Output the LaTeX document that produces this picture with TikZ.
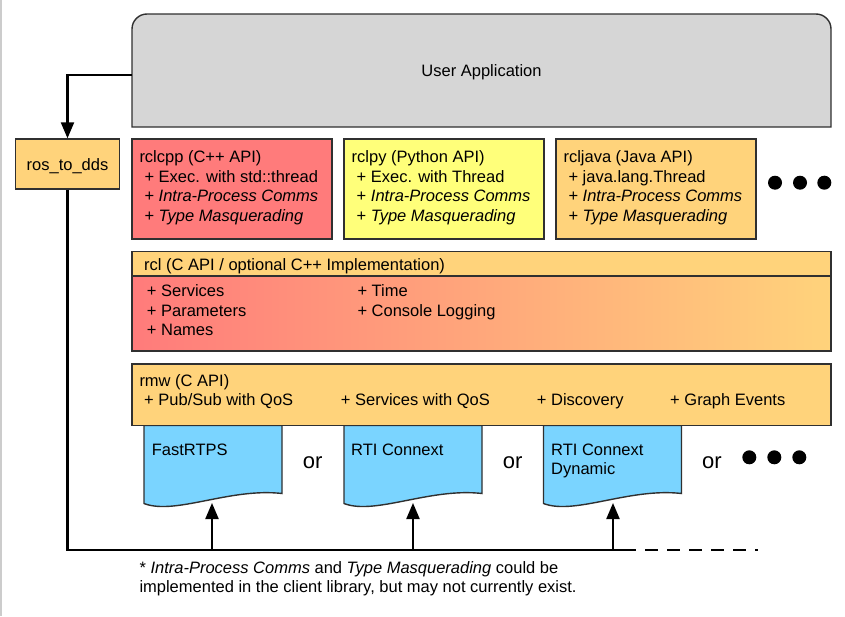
\documentclass[tikz,border=0pt]{standalone}
\usepackage{fontspec}
\setmainfont{Liberation Sans}
\usetikzlibrary{arrows.meta,calc}
\definecolor{appgray}{HTML}{D6D6D6}
\definecolor{libred}{HTML}{FF7B7B}
\definecolor{libyellow}{HTML}{FFFF7A}
\definecolor{liborange}{HTML}{FFD37B}
\definecolor{ddsblue}{HTML}{7AD4FF}
\definecolor{edge}{HTML}{303030}
\tikzset{
  boxstyle/.style={draw=edge, line width=1.4pt},
  txt/.style={inner sep=0pt, font=\fontsize{16.5}{19.5}\selectfont, align=left, anchor=base west},
  ctxt/.style={inner sep=0pt, font=\fontsize{16.5}{19.5}\selectfont, anchor=base},
  ortxt/.style={inner sep=0pt, font=\fontsize{22}{24}\selectfont, anchor=base west},
  conn/.style={line width=2.2pt, black},
  tip/.style={-{Triangle[length=16pt,width=13pt]}},
  dotstyle/.style={circle, fill=black, inner sep=0pt, minimum size=14pt},
  docpic/.pic={
    \draw[boxstyle, fill=ddsblue] (0,0) -- (0,78) .. controls (31,90) and (86,62) .. (138,68) -- (138,0) -- cycle;
  }
}
\newcommand{\ind}{\hspace*{5pt}}
\begin{document}
\begin{tikzpicture}[x=1pt,y=-1pt]
\useasboundingbox (0,0) rectangle (845,616);
\draw[line width=1.5pt, draw=black!20] (0.75,0) -- (0.75,616);

% User application
\draw[boxstyle, fill=appgray] (132,127) [rounded corners=15pt] -- (132,14) -- (831,14) [sharp corners] -- (831,127) -- cycle;
\node[inner sep=0pt, minimum width=699pt, minimum height=113pt] (ua) at (481.5,70.5) {};
\node[ctxt] (uatext) at (481.5,76.7) {User Application};

% ros_to_dds
\node[boxstyle, fill=liborange, minimum width=104pt, minimum height=50pt, inner sep=0pt] (r2d) at (67.5,164) {};
\node[ctxt] (r2dtext) at (67.5,170) {ros\_to\_dds};

% client libraries
\node[boxstyle, fill=libred, minimum width=200pt, minimum height=100pt, inner sep=0pt] (rclcpp) at (232,189) {};
\node[boxstyle, fill=libyellow, minimum width=200pt, minimum height=100pt, inner sep=0pt] (rclpy) at (444,189) {};
\node[boxstyle, fill=liborange, minimum width=200pt, minimum height=100pt, inner sep=0pt] (rcljava) at (656,189) {};
\node[txt] (rclcpptext) at (139.3,221) {rclcpp (C++ API)\\\ind+ Exec. with std::thread\\\ind+ \textit{Intra-Process Comms}\\\ind+ \textit{Type Masquerading}};
\node[txt] (rclpytext) at (351.5,221) {rclpy (Python API)\\\ind+ Exec. with Thread\\\ind+ \textit{Intra-Process Comms}\\\ind+ \textit{Type Masquerading}};
\node[txt] (rcljavatext) at (563.3,221) {rcljava (Java API)\\\ind+ java.lang.Thread\\\ind+ \textit{Intra-Process Comms}\\\ind+ \textit{Type Masquerading}};
\node[dotstyle] (d1) at (775,182.7) {};
\node[dotstyle] (d2) at (800,182.7) {};
\node[dotstyle] (d3) at (824.3,182.7) {};

% rcl
\shade[left color=libred, right color=liborange] (132,276) rectangle (831,351);
\fill[liborange] (132,251.5) rectangle (831,276);
\draw[boxstyle] (132,251.5) rectangle (831,351);
\draw[boxstyle] (132,276) -- (831,276);
\node[inner sep=0pt, minimum width=699pt, minimum height=99.5pt] (rcl) at (481.5,301.25) {};
\node[txt] (rclhead) at (144,270) {rcl (C API / optional C++ Implementation)};
\node[txt] (rclleft) at (146.7,335.7) {+ Services\\+ Parameters\\+ Names};
\node[txt] (rclright) at (357.3,316.2) {+ Time\\+ Console Logging};

% middleware documents
\pic at (144,425.5) {docpic};
\pic at (344,425.5) {docpic};
\pic at (543.5,425.5) {docpic};
\node[txt] (fast) at (151.7,455) {FastRTPS};
\node[txt] (rti) at (351,455) {RTI Connext};
\node[txt] (rtidyn) at (551,474.5) {RTI Connext\\Dynamic};
\node[ortxt] (or1) at (302.7,468) {or};
\node[ortxt] (or2) at (502.7,468) {or};
\node[ortxt] (or3) at (702,468) {or};
\node[dotstyle] (e1) at (749.3,457.3) {};
\node[dotstyle] (e2) at (774.3,457.3) {};
\node[dotstyle] (e3) at (799.3,457.3) {};

% rmw
\node[boxstyle, fill=liborange, minimum width=699pt, minimum height=61.5pt, inner sep=0pt] (rmw) at (481.5,394.75) {};
\node[txt] (rmwhead) at (139.3,386.7) {rmw (C API)};
\node[txt] (rmw1) at (144,405.7) {+ Pub/Sub with QoS};
\node[txt] (rmw2) at (340.7,405.7) {+ Services with QoS};
\node[txt] (rmw3) at (536.7,405.7) {+ Discovery};
\node[txt] (rmw4) at (670,405.7) {+ Graph Events};

% footnote
\node[txt, font=\fontsize{16.5}{19}\selectfont] (note) at (139.3,592.3) {* \textit{Intra-Process Comms} and \textit{Type Masquerading} could be\\implemented in the client library, but may not currently exist.};

% connectors
\coordinate (t1) at (212,503);
\coordinate (t2) at (413,503);
\coordinate (t3) at (613,503);
\coordinate (b1) at (212,550);
\coordinate (b2) at (413,550);
\coordinate (b3) at (613,550);
\coordinate (bend) at (758,550);
\draw[conn, tip] ([yshift=-4.5pt]ua.west) -| (r2d.north);
\draw[conn] (r2d.south) |- (b3) -- ++(10,0);
\draw[conn, dash pattern=on 13pt off 9pt] ([xshift=10pt]b3) -- (bend);
\draw[conn, tip] (b1) -- (t1);
\draw[conn, tip] (b2) -- (t2);
\draw[conn, tip] (b3) -- (t3);
\end{tikzpicture}
\end{document}
